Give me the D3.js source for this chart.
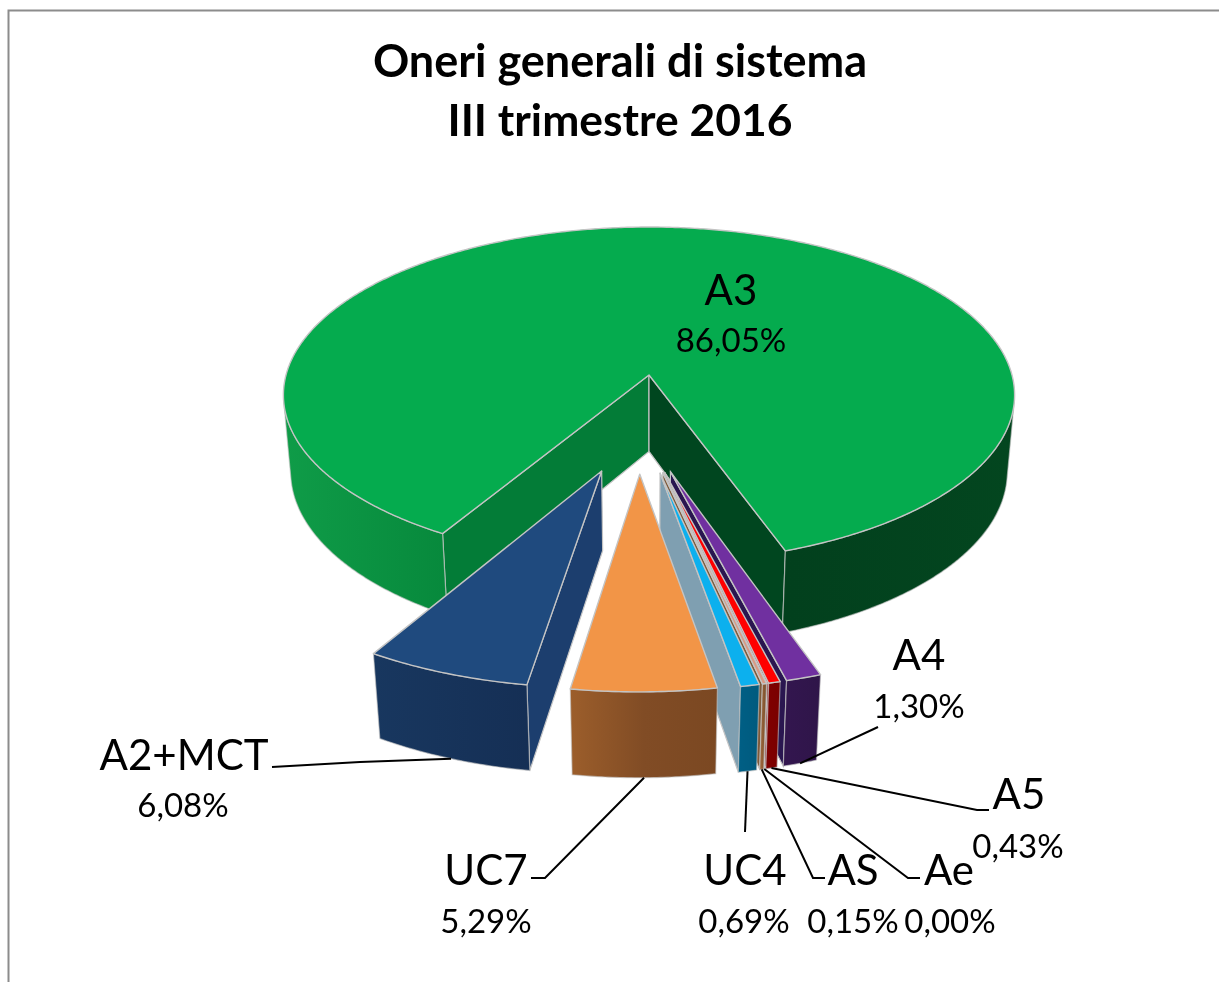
<!DOCTYPE html>
<html lang="it">
<head>
<meta charset="utf-8">
<style>
  html, body { margin: 0; padding: 0; background: #fff; }
  svg { display: block; filter: blur(0.4px); }
  text { font-family: Lato, "Noto Sans", sans-serif; fill: #000; text-anchor: middle; }
</style>
<script src="https://d3js.org/d3.v7.min.js"></script>
</head>
<body>
<script>
// data, clockwise starting at the big slice
const categories = ["A3", "A4", "A5", "Ae", "AS", "UC4", "UC7", "A2+MCT"];
const shares = [86.05, 1.30, 0.43, 0.00, 0.15, 0.69, 5.29, 6.08];
const shareLabels = ["86,05%", "1,30%", "0,43%", "0,00%", "0,15%", "0,69%", "5,29%", "6,08%"];
const titleLines = ["Oneri generali di sistema", "III trimestre 2016"];

// slice colours: top, left cut, right cut, outer wall (gradient stops left to right)
const topColors = ["#05ab4e", "#7030a0", "#ff0000", "#d9a092", "#d99a85", "#0cb0ee", "#f29547", "#1f4a7e"];
const leftCut = ["#037c37", "#2a1650", "#dc9c8c", "#d9a092", "#7f5a3a", "#7f9fb1", "#a0622c", "#1c3e6e"];
const rightCut = ["#00461f", "#2a1650", "#800000", "#d9a092", "#7f5a3a", "#7f9fb1", "#8a5228", "#1b3e70"];
const wallStops = [
  ["#0f9c48", "#07893c", "#02401d", "#03461f"],
  ["#33164f", "#2f1549"],
  ["#800000", "#7a0000"],
  ["#d9a092", "#d9a092"],
  ["#a0683c", "#7a4f2c"],
  ["#005f85", "#005a7e"],
  ["#9c5e2b", "#814c25", "#7b4822"],
  ["#18375f", "#152f55"]
];
const drawOrder = ["A3", "A4", "A5", "Ae", "AS", "UC4", "UC7", "A2+MCT"];

// label anchors: name x, name baseline, share x, share baseline, leader knee (elbow, end)
const labelLayout = {
  "A3":     { x: 731, y: 305, px: 731, py: 352 },
  "A4":     { x: 919, y: 670, px: 919, py: 718, elbow: [878, 727] },
  "A5":     { x: 1019, y: 809, px: 1018, py: 858, elbow: [977, 810], end: [989, 810] },
  "Ae":     { x: 949, y: 885, px: 950, py: 933, elbow: [908, 878], end: [920, 878] },
  "AS":     { x: 853, y: 885, px: 853, py: 933, elbow: [813, 878], end: [825, 878] },
  "UC4":    { x: 745, y: 885, px: 744, py: 933, elbow: [745, 832] },
  "UC7":    { x: 486, y: 885, px: 486, py: 933, elbow: [545, 878], end: [531, 878] },
  "A2+MCT": { x: 184, y: 770, px: 183, py: 817, elbow: [360, 762], end: [272, 767] }
};

const width = 1219, height = 982;

// camera: the apex of the big slice is the origin, radius of the disc is 1
const cx = 649, cy = 375;
const scaleX = 363, scaleY = 165.6, thick = 78;
const depthK = 0.119, depthM = 0.02;
const explode = 0.28;

function project(x, y, lower) {
  const w = 1 + depthK * y + (lower ? depthM : 0);
  return [cx + scaleX * x / w, cy + ((lower ? thick : 0) - scaleY * y) / w];
}

const rad = Math.PI / 180;
const startAngle = 210.7 * rad;

const arcs = d3.pie()
  .sort(null)
  .value(d => d)
  .startAngle(startAngle)
  .endAngle(startAngle + 2 * Math.PI)(shares);

const mid = a => (a.startAngle + a.endAngle) / 2;
const baseMid = mid(arcs[0]);

arcs.forEach(function(a, i) {
  a.name = categories[i];
  a.idx = i;
  a.dx = explode * (Math.sin(mid(a)) - Math.sin(baseMid));
  a.dy = explode * (Math.cos(mid(a)) - Math.cos(baseMid));
});

function rimAt(a, t, lower) {
  return project(a.dx + Math.sin(t), a.dy + Math.cos(t), lower);
}

function rimPoints(a, lower) {
  const n = Math.max(1, Math.ceil((a.endAngle - a.startAngle) / (0.5 * rad)));
  return d3.range(n + 1).map(k => rimAt(a, a.startAngle + (a.endAngle - a.startAngle) * k / n, lower));
}

// stretches of the rim whose wall looks at the camera
function frontRuns(top, low) {
  const runs = [];
  let run = null;
  d3.range(top.length - 1).forEach(function(k) {
    const area = d3.polygonArea([top[k], top[k + 1], low[k + 1], low[k]]);
    if (area > 0) {
      if (!run) { run = [k, k + 1]; runs.push(run); }
      run[1] = k + 1;
    } else {
      run = null;
    }
  });
  return runs;
}

const line = d3.line().curve(d3.curveLinear);
const closed = pts => line(pts) + "Z";

const svg = d3.select("body").append("svg")
  .attr("width", width)
  .attr("height", height);

// frame of the pasted chart, cut off on the right and at the bottom
svg.append("path")
  .attr("d", "M8.5,982V10.5H1219")
  .attr("fill", "none")
  .attr("stroke", "#8c8c8c")
  .attr("stroke-width", 2);

const defs = svg.append("defs");
const stroke = "#c4c4c4";

const xSpan = d3.scaleLinear();

drawOrder.forEach(function(name) {
  const a = arcs.find(d => d.name === name);
  const i = a.idx;
  const g = svg.append("g").attr("class", "slice");

  const apexTop = project(a.dx, a.dy, false);
  const apexLow = project(a.dx, a.dy, true);
  const top = rimPoints(a, false);
  const low = rimPoints(a, true);

  // cut faces, only the ones turned to the camera
  const left = [apexTop, top[0], low[0], apexLow];
  const right = [apexTop, top[top.length - 1], low[low.length - 1], apexLow];
  if (d3.polygonArea(left) > 0) {
    g.append("path").attr("d", closed(left)).attr("fill", leftCut[i]).attr("stroke", stroke).attr("stroke-width", 1.2);
  }
  if (d3.polygonArea(right) < 0) {
    g.append("path").attr("d", closed(right)).attr("fill", rightCut[i]).attr("stroke", stroke).attr("stroke-width", 1.2);
  }

  // outer wall with a horizontal gradient
  const xs = d3.extent(top.concat(low), p => p[0]);
  xSpan.domain([0, wallStops[i].length - 1]).range([0, 100]);
  const grad = defs.append("linearGradient")
    .attr("id", "wall" + i)
    .attr("gradientUnits", "userSpaceOnUse")
    .attr("x1", xs[0]).attr("x2", xs[1])
    .attr("y1", 0).attr("y2", 0);
  grad.selectAll("stop").data(wallStops[i]).join("stop")
    .attr("offset", (d, k) => (name === "A3" ? [0, 22, 69, 100][k] : xSpan(k)) + "%")
    .attr("stop-color", d => d);
  frontRuns(top, low).forEach(function(r) {
    const upper = top.slice(r[0], r[1] + 1);
    const lower = low.slice(r[0], r[1] + 1).reverse();
    g.append("path")
      .attr("d", closed(upper.concat(lower)))
      .attr("fill", "url(#wall" + i + ")")
      .attr("stroke", stroke)
      .attr("stroke-opacity", 0.6)
      .attr("stroke-width", 1.2);
  });

  // top face
  g.append("path")
    .attr("d", closed([apexTop].concat(top)))
    .attr("fill", topColors[i])
    .attr("stroke", stroke)
    .attr("stroke-width", 1.4)
    .attr("stroke-linejoin", "round");
});

// leader lines start on the bottom rim of each slice
arcs.forEach(function(a) {
  const l = labelLayout[a.name];
  if (!l.elbow) return;
  const pts = [rimAt(a, mid(a), true), l.elbow];
  if (l.end) pts.push(l.end);
  svg.append("path")
    .attr("d", line(pts))
    .attr("fill", "none")
    .attr("stroke", "#000")
    .attr("stroke-width", 2);
});

// labels
arcs.forEach(function(a) {
  const l = labelLayout[a.name];
  svg.append("text").attr("x", l.x).attr("y", l.y).attr("font-size", 42).text(a.name);
  svg.append("text").attr("x", l.px).attr("y", l.py).attr("font-size", 33).text(shareLabels[a.idx]);
});

svg.selectAll(".title")
  .data(titleLines)
  .join("text")
  .attr("class", "title")
  .attr("x", (d, i) => i ? 620 : 620)
  .attr("y", (d, i) => i ? 136 : 77)
  .attr("font-size", (d, i) => i ? 44.4 : 45)
  .attr("font-weight", 700)
  .text(d => d);
</script>
</body>
</html>
